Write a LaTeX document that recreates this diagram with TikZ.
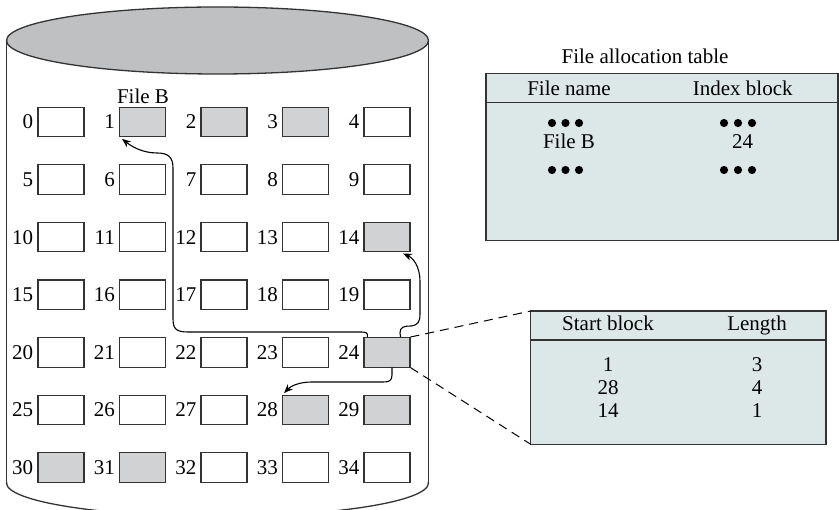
\documentclass[tikz,border=0pt]{standalone}
\usepackage{fontspec}
\setmainfont{Liberation Serif}
\usetikzlibrary{arrows.meta}
\definecolor{linec}{HTML}{333333}
\definecolor{diskc}{HTML}{BFC0C2}
\definecolor{usedc}{HTML}{D1D2D4}
\definecolor{tablec}{HTML}{DCE8E8}
\tikzset{
  blk/.style={draw=linec, line width=1.1pt, minimum width=46pt, minimum height=29.5pt, inner sep=0pt},
  lbl/.style={anchor=east, inner sep=0pt, xshift=-4pt},
  txt/.style={inner sep=0pt},
  arr/.style={draw=black, line width=1.1pt, -{Stealth[length=9pt,width=7pt]}},
  dashline/.style={draw=black, line width=1pt, dash pattern=on 9pt off 6pt},
  tbl/.style={draw=linec, line width=1.2pt, fill=tablec},
}
\begin{document}
\begin{tikzpicture}[x=1pt,y=-1pt,font=\fontsize{21}{25}\selectfont]
\useasboundingbox (0,0) rectangle (839,510);
\clip (0,0) rectangle (839,510);
% cylinder
\fill[white] (6.5,40.5) rectangle (428.5,483);
\draw[linec, line width=1.3pt] (6.5,40.5) -- (6.5,483);
\draw[linec, line width=1.3pt] (428.5,40.5) -- (428.5,483);
\begin{scope}
\clip (0,483) rectangle (839,530);
\draw[linec, line width=1.3pt] (217.5,483) ellipse [x radius=211, y radius=33.5];
\end{scope}
\draw[linec, line width=1.3pt, fill=diskc] (217.5,40.5) ellipse [x radius=211, y radius=33.5];
% used blocks (fill)
\foreach \n in {1,2,3,14,24,28,29,30,31}{
  \pgfmathsetmacro{\cx}{61+81.5*mod(\n,5)}
  \pgfmathsetmacro{\cy}{122+57.58*int(\n/5)}
  \fill[usedc] (\cx-23,\cy-14.75) rectangle (\cx+23,\cy+14.75);
}
% blocks
\foreach \r in {0,...,6}{
  \foreach \c in {0,...,4}{
    \pgfmathtruncatemacro{\n}{5*\r+\c}
    \pgfmathsetmacro{\cx}{61+81.5*\c}
    \pgfmathsetmacro{\cy}{122+57.58*\r}
    \node[blk] (b\n) at (\cx,\cy) {};
    \node[lbl] (l\n) at (b\n.west) {\n};
  }
}
\node[txt] (fb) at (143,96) {File B};
% connectors
\draw[arr] ([xshift=4pt]b24.north west) .. controls (368,332) and (366,332) .. (358,332) -- (188,332) .. controls (175,332) and (173,328) .. (173,318) -- (173,168) .. controls (173,157) and (168,153) .. (157,153) .. controls (142,153) and (131,146) .. ([shift={(3,1.5)}]b1.south west);
\draw[arr] ([xshift=-10pt]b24.north east) -- (400,333) .. controls (400,327) and (404,326) .. (411,326) .. controls (418,325) and (420,322) .. (420,314) -- (420,282) .. controls (420,266) and (413,258) .. ([shift={(16,1)}]b14.south);
\draw[arr] ([xshift=5pt]b24.south) -- (392,375) .. controls (392,381) and (389,382) .. (383,382) -- (312,382) .. controls (299,382) and (291,386) .. ([shift={(2,-1.5)}]b28.north west);
% file allocation table
\node[txt] (fattitle) at (645,56) {File allocation table};
\draw[tbl] (486,73.3) rectangle (838,240.7);
\draw[linec, line width=1.2pt] (486,102.5) -- (838,102.5);
\node[txt] (fn) at (569,80.5) [anchor=north] {File name};
\node[txt] (ib) at (742.7,80.5) [anchor=north] {Index block};
\foreach \y in {123,170}{
  \foreach \x in {552,565.5,579,724,738,752}{
    \fill (\x,\y) circle (4.1);
  }
}
\node[txt] (fbn) at (569,141.5) {File B};
\node[txt] (ibn) at (742.7,141.5) {24};
% index block
\coordinate (it) at (530.7,311);
\coordinate (ib2) at (530.7,444.3);
\draw[tbl] (530.7,311) rectangle (826,444.3);
\draw[linec, line width=1.2pt] (530.7,340) -- (826,340);
\node[txt] (sb) at (608,316) [anchor=north] {Start block};
\node[txt] (ln) at (757,316) [anchor=north] {Length};
\node[txt] (s1) at (608,365) {1};
\node[txt] (s2) at (608,388) {28};
\node[txt] (s3) at (608,411) {14};
\node[txt] (l1) at (757,365) {3};
\node[txt] (l2) at (757,388) {4};
\node[txt] (l3) at (757,411) {1};
\draw[dashline] (b24.north east) -- (it);
\draw[dashline] (b24.south east) -- (ib2);
\end{tikzpicture}
\end{document}
